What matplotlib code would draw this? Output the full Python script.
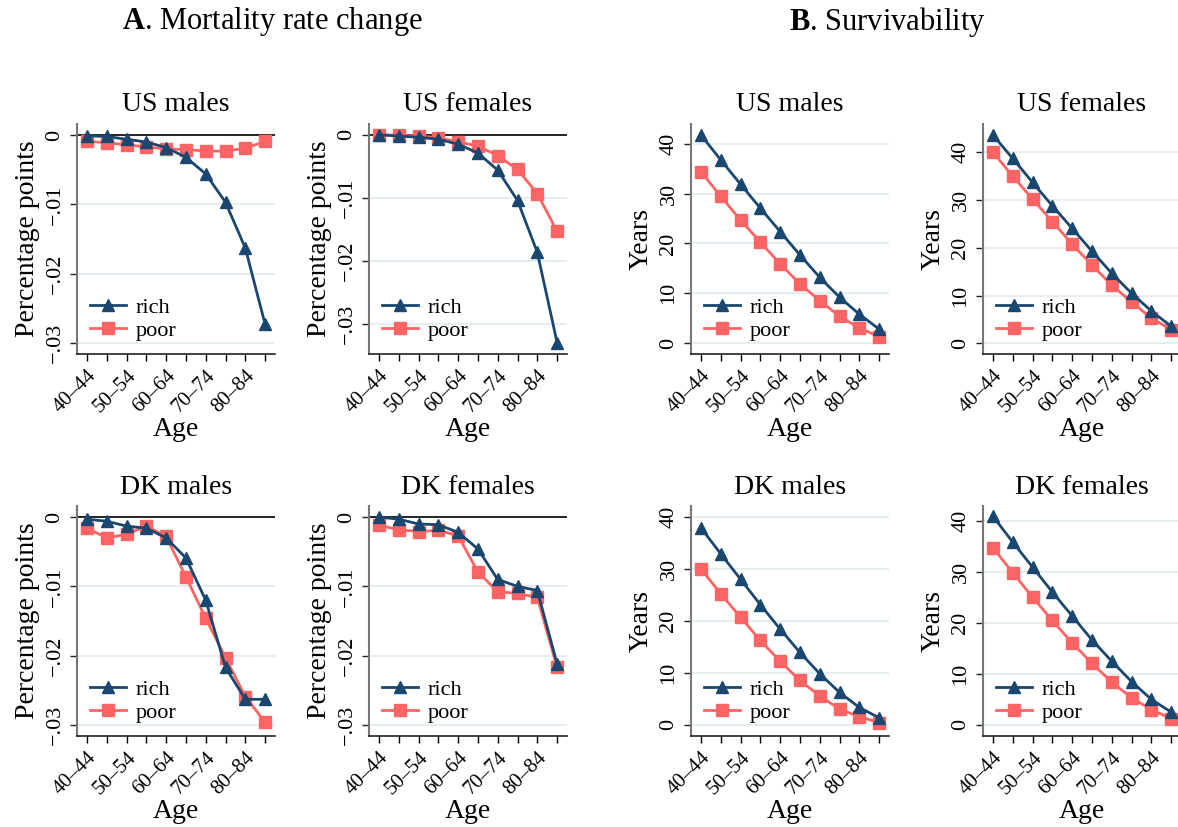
import matplotlib
matplotlib.use("Agg")
import matplotlib.pyplot as plt

plt.rcParams['font.family'] = ['Liberation Serif', 'DejaVu Serif']
plt.rcParams['mathtext.fontset'] = 'custom'
plt.rcParams['mathtext.rm'] = 'Liberation Serif'
plt.rcParams['mathtext.bf'] = 'Liberation Serif:bold'

AGES = ["40\u201344", "45\u201349", "50\u201354", "55\u201359", "60\u201364",
        "65\u201369", "70\u201374", "75\u201379", "80\u201384", "85\u201389"]

# A. Mortality rate change (percentage points)
us_m_rich = [-0.0001, -0.0002, -0.0006, -0.0010, -0.0018, -0.0032, -0.0056, -0.0097, -0.0163, -0.0273]
us_m_poor = [-0.0009, -0.0011, -0.0014, -0.0017, -0.0020, -0.0021, -0.0023, -0.0023, -0.0019, -0.0009]
us_f_rich = [0.0000, -0.0002, -0.0004, -0.0007, -0.0015, -0.0029, -0.0056, -0.0104, -0.0186, -0.0329]
us_f_poor = [0.0000, -0.0001, -0.0002, -0.0005, -0.0011, -0.0018, -0.0033, -0.0055, -0.0093, -0.0153]
dk_m_rich = [-0.0003, -0.0006, -0.0013, -0.0016, -0.0030, -0.0059, -0.0120, -0.0217, -0.0263, -0.0263]
dk_m_poor = [-0.0016, -0.0030, -0.0025, -0.0013, -0.0028, -0.0086, -0.0146, -0.0203, -0.0259, -0.0296]
dk_f_rich = [0.0000, -0.0003, -0.0010, -0.0011, -0.0022, -0.0046, -0.0090, -0.0100, -0.0106, -0.0212]
dk_f_poor = [-0.0012, -0.0018, -0.0021, -0.0019, -0.0027, -0.0079, -0.0108, -0.0110, -0.0116, -0.0217]

# B. Survivability (years)
sv_us_m_rich = [41.8, 36.8, 31.9, 27.1, 22.4, 17.7, 13.2, 9.2, 5.8, 2.8]
sv_us_m_poor = [34.4, 29.5, 24.7, 20.3, 15.9, 11.9, 8.5, 5.4, 3.0, 1.3]
sv_us_f_rich = [43.6, 38.7, 33.7, 28.8, 24.1, 19.3, 14.7, 10.5, 6.8, 3.6]
sv_us_f_poor = [40.0, 35.0, 30.2, 25.5, 20.8, 16.4, 12.2, 8.7, 5.3, 2.9]
sv_dk_m_rich = [37.9, 32.9, 28.0, 23.1, 18.4, 13.9, 9.8, 6.2, 3.3, 1.3]
sv_dk_m_poor = [30.0, 25.2, 20.7, 16.2, 12.2, 8.5, 5.5, 3.0, 1.5, 0.4]
sv_dk_f_rich = [41.0, 35.9, 31.0, 26.1, 21.4, 16.7, 12.5, 8.5, 5.0, 2.5]
sv_dk_f_poor = [34.8, 29.9, 25.1, 20.5, 16.1, 12.1, 8.4, 5.3, 3.0, 1.2]

NAVY = '#1a476f'
SALMON = '#ff6464'
GRID = '#e6eef1'

W, H = 1178, 827
fig = plt.figure(figsize=(W / 100, H / 100), dpi=100)


def make_axes(left, top, right, bottom):
    return fig.add_axes([left / W, 1 - bottom / H, (right - left) / W, (bottom - top) / H])


def panel(ax, title, rich, poor, kind, ylim):
    x = list(range(len(AGES)))
    if kind == 'A':
        ticks = [0, -0.01, -0.02, -0.03]
        labels = ['0', '\u2212.01', '\u2212.02', '\u2212.03']
        ylabel = 'Percentage points'
    else:
        ticks = [0, 10, 20, 30, 40]
        labels = ['0', '10', '20', '30', '40']
        ylabel = 'Years'
    for t in ticks:
        if kind == 'A' and t == 0:
            ax.axhline(0, color='black', lw=1.2, zorder=1)
        else:
            ax.axhline(t, color=GRID, lw=1.5, zorder=0)
    ax.plot(x, poor, color=SALMON, lw=2.0, marker='s', ms=8, label='poor', zorder=3)
    ax.plot(x, rich, color=NAVY, lw=2.0, marker='^', ms=9, label='rich', zorder=4)
    ax.set_xlim(-0.5, 9.5)
    ax.set_ylim(*ylim)
    ax.set_xticks(x)
    ax.set_xticklabels([a if i % 2 == 0 else '' for i, a in enumerate(AGES)],
                       rotation=45, ha='right', rotation_mode='anchor', fontsize=15)
    ax.set_yticks(ticks)
    ax.set_yticklabels(labels, rotation=90, va='center', fontsize=16)
    ax.tick_params(axis='both', length=5, width=1.0, pad=4)
    ax.tick_params(axis='y', colors='#222222', labelcolor='black')
    for s in ['top', 'right']:
        ax.spines[s].set_visible(False)
    ax.spines['left'].set_color('#777777')
    ax.spines['left'].set_linewidth(1.5)
    ax.spines['bottom'].set_color('#222222')
    ax.spines['bottom'].set_linewidth(1.2)
    ax.set_title(title, fontsize=20, pad=9)
    ax.set_xlabel('Age', fontsize=20, labelpad=0)
    ax.set_ylabel(ylabel, fontsize=20, labelpad=4)
    h, l = ax.get_legend_handles_labels()
    ax.legend(h[::-1], l[::-1], loc='lower left', frameon=False, fontsize=16,
              handlelength=1.6, handletextpad=0.45, labelspacing=0.1,
              borderaxespad=0.2, bbox_to_anchor=(0.0, 0.0))


top_r = (124, 354)
bot_r = (506, 736)
cols = [(77, 275), (369, 567), (691, 889), (983, 1181)]

panel(make_axes(cols[0][0], top_r[0], cols[0][1], top_r[1]), 'US males', us_m_rich, us_m_poor, 'A', (-0.0316, 0.0016))
panel(make_axes(cols[1][0], top_r[0], cols[1][1], top_r[1]), 'US females', us_f_rich, us_f_poor, 'A', (-0.0347, 0.0017))
panel(make_axes(cols[0][0], bot_r[0], cols[0][1], bot_r[1]), 'DK males', dk_m_rich, dk_m_poor, 'A', (-0.0316, 0.0016))
panel(make_axes(cols[1][0], bot_r[0], cols[1][1], bot_r[1]), 'DK females', dk_f_rich, dk_f_poor, 'A', (-0.0316, 0.0016))
panel(make_axes(cols[2][0], top_r[0], cols[2][1], top_r[1]), 'US males', sv_us_m_rich, sv_us_m_poor, 'B', (-2.2, 44.0))
panel(make_axes(cols[3][0], top_r[0], cols[3][1], top_r[1]), 'US females', sv_us_f_rich, sv_us_f_poor, 'B', (-2.2, 45.9))
panel(make_axes(cols[2][0], bot_r[0], cols[2][1], bot_r[1]), 'DK males', sv_dk_m_rich, sv_dk_m_poor, 'B', (-2.2, 42.1))
panel(make_axes(cols[3][0], bot_r[0], cols[3][1], bot_r[1]), 'DK females', sv_dk_f_rich, sv_dk_f_poor, 'B', (-2.2, 43.0))

fig.text(272 / W, 1 - 22 / H, r'$\mathbf{A}$. Mortality rate change', ha='center', va='center', fontsize=22)
fig.text(887 / W, 1 - 22 / H, r'$\mathbf{B}$. Survivability', ha='center', va='center', fontsize=22)

fig.savefig('out.png', dpi=100)
